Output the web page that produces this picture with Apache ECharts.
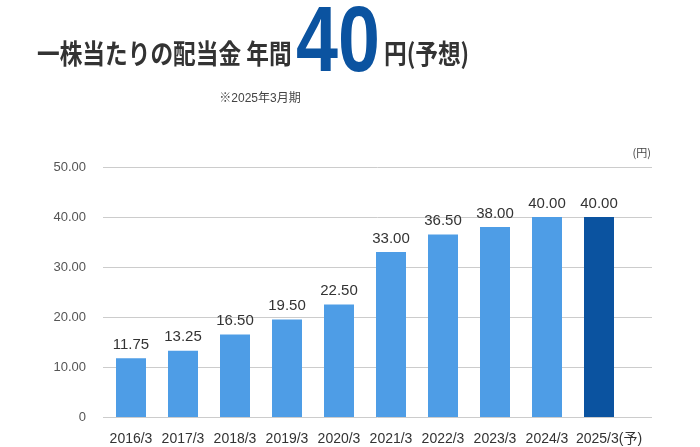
<!DOCTYPE html>
<html><head><meta charset="utf-8">
<script src="https://cdn.jsdelivr.net/npm/echarts@6/dist/echarts.min.js"></script>
<style>html,body{margin:0;padding:0;background:#fff}#c{width:700px;height:447px}</style>
</head><body><div id="c"></div>
<script>
var categories = ['2016/3','2017/3','2018/3','2019/3','2020/3','2021/3','2022/3','2023/3','2024/3','2025/3(予)'];
var dividends = [11.75, 13.25, 16.50, 19.50, 22.50, 33.00, 36.50, 38.00, 40.00, 40.00];
var forecastIndex = 9;
var yTicks = {min: 0, max: 50, interval: 10};
var titleText = '一株当たりの配当金 年間';
var titleValue = '40';
var titleUnit = '円(予想)';
var subtitleText = '※2025年3月期';
var unitText = '(円)';

var LIGHT = '#4e9de6', DARK = '#0b53a0';
var FONT = '"Liberation Sans", Arial, sans-serif';
var CJK = '"Noto Sans CJK JP", sans-serif';

var xData = categories.map(function(c, i){
  return i === forecastIndex ? {value: c, textStyle: {padding: [0, 0, 0, 20]}} : c;
});

var chart = echarts.init(document.getElementById('c'), null, {renderer: 'canvas'});
chart.setOption({
  animation: false,
  backgroundColor: '#fff',
  grid: [
    {left: 103, right: 48, top: 167, bottom: 30},
    {left: 105, right: 75, top: 167, bottom: 30}
  ],
  xAxis: [
    {gridIndex: 0, type: 'category', data: categories, show: false},
    {gridIndex: 1, type: 'category', data: xData,
     axisLine: {show: false}, axisTick: {show: false},
     axisLabel: {color: '#333', fontSize: 14, fontFamily: FONT + ',' + CJK, margin: 15, interval: 0}}
  ],
  yAxis: [
    {gridIndex: 0, type: 'value', min: yTicks.min, max: yTicks.max, interval: yTicks.interval,
     axisLine: {show: false}, axisTick: {show: false},
     axisLabel: {color: '#555', fontSize: 13, fontFamily: FONT, margin: 17,
       formatter: function(v){ return v === 0 ? '0' : v.toFixed(2); }},
     splitLine: {lineStyle: {color: '#cccccc', width: 1}}},
    {gridIndex: 1, type: 'value', min: yTicks.min, max: yTicks.max, interval: yTicks.interval, show: false}
  ],
  series: [{
    type: 'bar', xAxisIndex: 1, yAxisIndex: 1, barWidth: 30,
    data: dividends.map(function(v, i){
      return {value: v, itemStyle: {color: i === forecastIndex ? DARK : LIGHT}};
    }),
    label: {show: true, position: 'top', distance: 6, color: '#333', fontSize: 15, fontWeight: 'normal',
      fontFamily: FONT, formatter: function(p){ return p.value.toFixed(2); }}
  }],
  graphic: [
    {type: 'text', x: 37, y: 54, scaleX: 0.84,
     style: {text: titleText, font: 'bold 27px ' + CJK, fill: '#333', textAlign: 'left', textVerticalAlign: 'middle'}},
    {type: 'text', x: 296, y: 46, scaleX: 0.82,
     style: {text: titleValue, font: 'bold 92px "Liberation Sans", Arial, sans-serif', fill: DARK, textAlign: 'left', textVerticalAlign: 'middle'}},
    {type: 'text', x: 384, y: 54, scaleX: 0.84,
     style: {text: titleUnit, font: 'bold 27px ' + CJK, fill: '#333', textAlign: 'left', textVerticalAlign: 'middle'}},
    {type: 'text', x: 260, y: 99,
     style: {text: subtitleText, font: '12px ' + FONT + ',' + CJK, fill: '#444', textAlign: 'center', textVerticalAlign: 'middle'}},
    {type: 'text', x: 651, y: 153,
     style: {text: unitText, font: '11px ' + CJK, fill: '#444', textAlign: 'right', textVerticalAlign: 'middle'}}
  ]
});
</script></body></html>
